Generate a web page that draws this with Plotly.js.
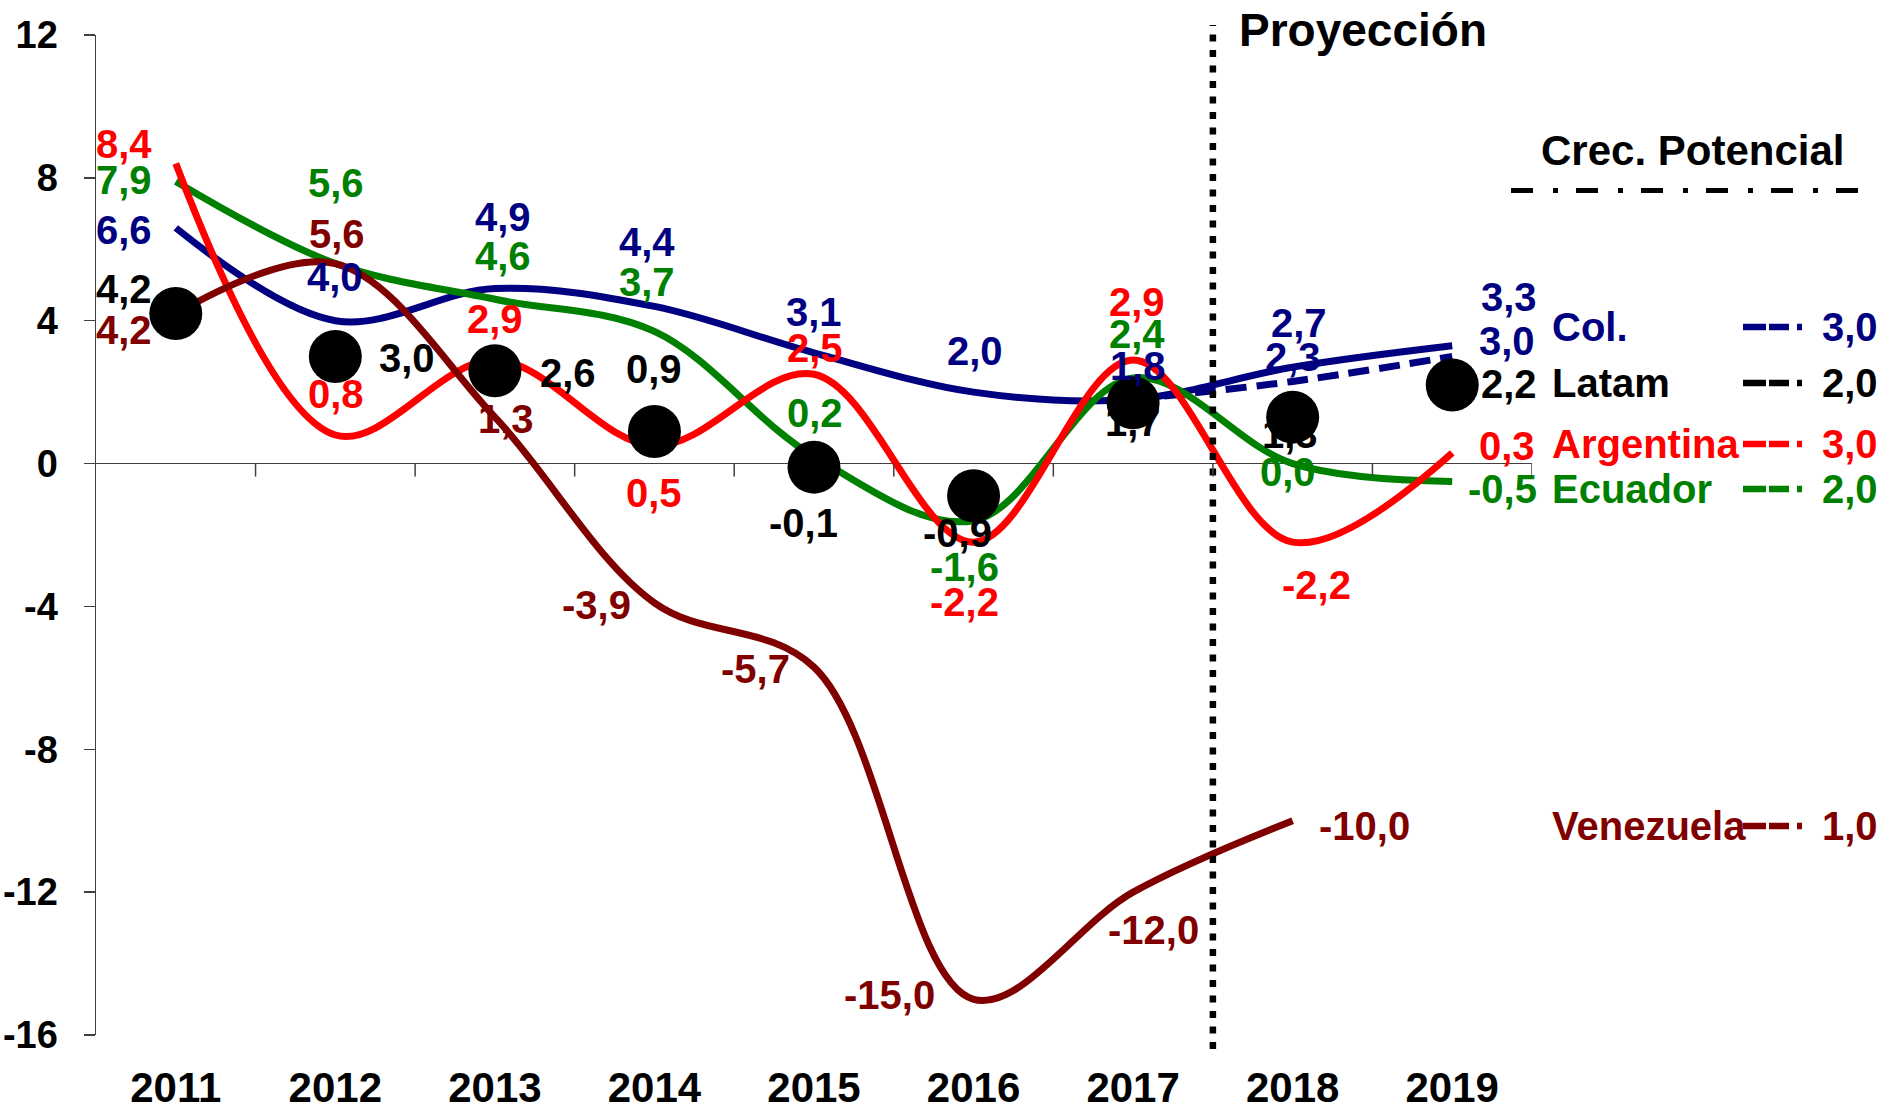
<!DOCTYPE html>
<html><head><meta charset="utf-8">
<script src="https://cdn.plot.ly/plotly-3.0.1.min.js"></script>
<style>html,body{margin:0;padding:0;background:#fff}#chart{width:1883px;height:1111px}</style>
</head><body><div id="chart"></div>
<script>
// ---------- data ----------
const years = ['2011','2012','2013','2014','2015','2016','2017','2018','2019'];
const colombia = [6.6, 4.0, 4.9, 4.4, 3.1, 2.0, 1.8, 2.7, 3.3];
const colombiaAltYears = ['2017','2018','2019'];
const colombiaAlt = [1.8, 2.3, 3.0];
const latam = [4.2, 3.0, 2.6, 0.9, -0.1, -0.9, 1.7, 1.3, 2.2];
const argentina = [8.4, 0.8, 2.9, 0.5, 2.5, -2.2, 2.9, -2.2, 0.3];
const ecuador = [7.9, 5.6, 4.6, 3.7, 0.2, -1.6, 2.4, 0.0, -0.5];
const venezuelaYears = ['2011','2012','2013','2014','2015','2016','2017','2018'];
const venezuela = [4.2, 5.6, 1.3, -3.9, -5.7, -15.0, -12.0, -10.0];
const potentialNames = ['Col.', 'Latam', 'Argentina', 'Ecuador', 'Venezuela'];
const potentialGrowth = [3.0, 2.0, 3.0, 2.0, 1.0];
const yTicks = [-16, -12, -8, -4, 0, 4, 8, 12];
const projectionText = 'Proyección';
const potentialTitle = 'Crec. Potencial';

// ---------- styles / label placement (pixel offsets from each point) ----------
const FONT = 'Liberation Sans, Arial, Helvetica, sans-serif';
const C_COL = '#000080', C_LAT = '#000000', C_ARG = '#FF0000', C_ECU = '#008000', C_VEN = '#800000';
const colOff = [[-52,2],[0,-44],[8,-72],[-7,-64],[0,-41],[1,-41],[5,-33],[6,-44],[57,-49]];
const colAltOff = [null,[0,-24],[55,-15]];
const latOff = [[-52,-25],[72,2],[73,2],[0,-62],[-11,56],[-16,37],[0,19],[-3,17],[57,-1]];
const argOff = [[-52,-20],[1,-41],[0,-41],[0,47],[1,-26],[-9,60],[4,-58],[24,43],[55,-7]];
const ecuOff = [[-52,-1],[1,-81],[8,-43],[-7,-49],[1,-43],[-9,46],[4,-44],[-5,8],[50,8]];
const venOff = [[-52,16],[2,-30],[11,2],[-58,2],[-59,2],[-84,-4],[20,38],[72,5]];
const legendRowY = [327, 383, 444, 489, 826];
const legendColors = [C_COL, C_LAT, C_ARG, C_ECU, C_VEN];

// plot box in pixels (for paper-coordinate conversion of decorations)
const L = 96, R = 351, T = 35, B = 76, W = 1883, H = 1111;
const PW = W - L - R, PH = H - T - B;
const px = v => (v - L) / PW;
const py = v => (H - B - v) / PH;
const fmt = v => v.toFixed(1).replace('.', ',');

function lineTrace(x, y, color, dash) {
  return {x: x, y: y, type: 'scatter', mode: 'lines', hoverinfo: 'skip',
    line: {color: color, width: 7, shape: 'spline', smoothing: 1, dash: dash || 'solid'}};
}
const traces = [
  lineTrace(years, colombia, C_COL),
  lineTrace(colombiaAltYears, colombiaAlt, C_COL, '21px,10px'),
  lineTrace(years, ecuador, C_ECU),
  lineTrace(years, argentina, C_ARG),
  lineTrace(venezuelaYears, venezuela, C_VEN),
  {x: years, y: latam, type: 'scatter', mode: 'markers', hoverinfo: 'skip',
   marker: {color: '#000', size: 53, line: {width: 0}}}
];

const annotations = [];
function addLabels(x, y, off, color) {
  y.forEach((v, i) => {
    if (!off[i]) return;
    annotations.push({x: years.indexOf(x[i]), y: v, xref: 'x', yref: 'y', text: fmt(v), showarrow: false,
      xshift: off[i][0], yshift: -off[i][1], xanchor: 'center', yanchor: 'middle',
      font: {family: FONT, size: 40, color: color, weight: 'bold'}});
  });
}
addLabels(years, colombia, colOff, C_COL);
addLabels(colombiaAltYears, colombiaAlt, colAltOff, C_COL);
addLabels(years, latam, latOff, C_LAT);
addLabels(years, argentina, argOff, C_ARG);
addLabels(years, ecuador, ecuOff, C_ECU);
addLabels(venezuelaYears, venezuela, venOff, C_VEN);

// header texts
annotations.push({xref: 'paper', yref: 'paper', x: px(1363), y: py(30), text: projectionText,
  showarrow: false, xanchor: 'center', yanchor: 'middle',
  font: {family: FONT, size: 46, color: '#000', weight: 'bold'}});
annotations.push({xref: 'paper', yref: 'paper', x: px(1692), y: py(150), text: potentialTitle,
  showarrow: false, xanchor: 'center', yanchor: 'middle',
  font: {family: FONT, size: 42, color: '#000', weight: 'bold'}});

const shapes = [];
// potential-growth legend
potentialNames.forEach((n, i) => {
  annotations.push({xref: 'paper', yref: 'paper', x: px(1550), y: py(legendRowY[i]), text: n,
    showarrow: false, xanchor: 'left', yanchor: 'middle',
    font: {family: FONT, size: 40, color: legendColors[i], weight: 'bold'}});
  annotations.push({xref: 'paper', yref: 'paper', x: px(1820), y: py(legendRowY[i]), text: fmt(potentialGrowth[i]),
    showarrow: false, xanchor: 'left', yanchor: 'middle',
    font: {family: FONT, size: 40, color: legendColors[i], weight: 'bold'}});
  shapes.push({type: 'line', xref: 'paper', yref: 'paper', x0: px(1743), x1: px(1803),
    y0: py(legendRowY[i]), y1: py(legendRowY[i]),
    line: {color: legendColors[i], width: 6.5, dash: '23px,3px,20px,8px,5px,60px'}});
});
// dash-dot line under "Crec. Potencial"
shapes.push({type: 'line', xref: 'paper', yref: 'paper', x0: px(1511), x1: px(1873), y0: py(190.5), y1: py(190.5),
  line: {color: '#000', width: 5, dash: '22px,20px,5px,18px'}});
// projection divider between 2017 and 2018
shapes.push({type: 'line', xref: 'x', yref: 'paper', x0: 6.5, x1: 6.5, y0: py(1049), y1: py(25),
  line: {color: '#000', width: 6.5, dash: '7px,8.5px'}});
// category tick marks hanging from the zero line
years.forEach((yr, i) => {
  shapes.push({type: 'line', xref: 'x', yref: 'y', x0: i + 0.5, x1: i + 0.5,
    ysizemode: 'pixel', yanchor: 0, y0: 0, y1: -13,
    line: {color: '#404040', width: 1.5}});
});

const layout = {
  width: W, height: H, margin: {l: L, r: R, t: T, b: B, pad: 0},
  paper_bgcolor: '#fff', plot_bgcolor: '#fff', showlegend: false,
  xaxis: {type: 'category', categoryorder: 'array', categoryarray: years, range: [-0.5, 8.5],
    showgrid: false, zeroline: false, showline: false, ticks: '', ticklabelstandoff: 24,
    tickfont: {family: FONT, size: 42, color: '#000', weight: 'bold'}, fixedrange: true},
  yaxis: {range: [-16, 12], tickvals: yTicks, ticktext: yTicks.map(String),
    showgrid: false, zeroline: true, zerolinecolor: '#404040', zerolinewidth: 1.5,
    showline: true, linecolor: '#404040', linewidth: 1.5,
    ticks: 'outside', ticklen: 11, tickwidth: 1.5, tickcolor: '#404040', ticklabelstandoff: 18,
    tickfont: {family: FONT, size: 38, color: '#000', weight: 'bold'}, fixedrange: true},
  shapes: shapes, annotations: annotations
};
Plotly.newPlot('chart', traces, layout, {staticPlot: true, displayModeBar: false});
</script>
</body></html>
